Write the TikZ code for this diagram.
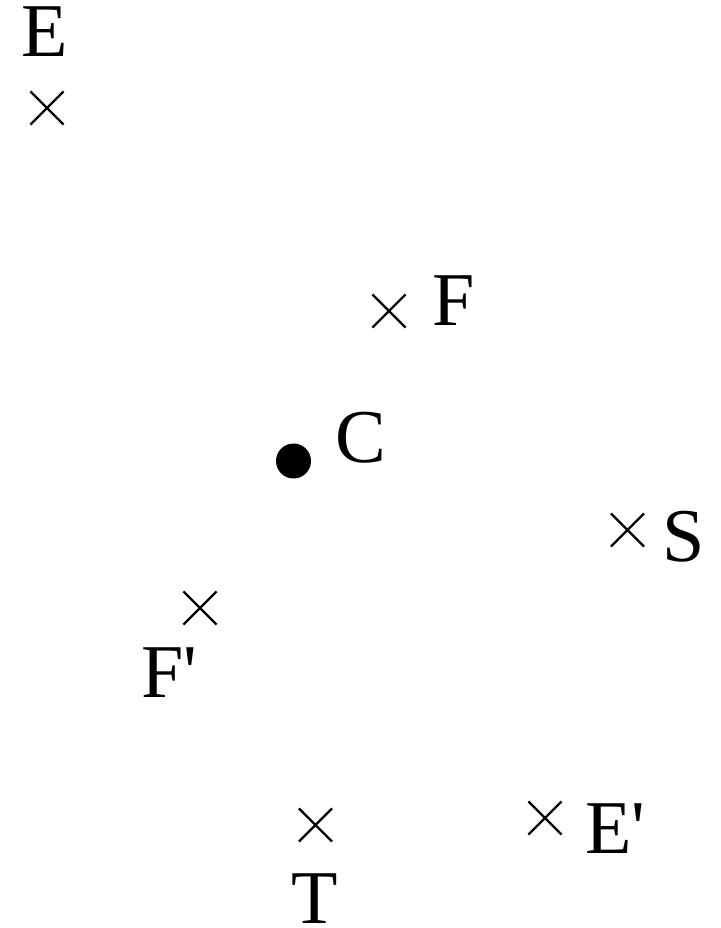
\documentclass[tikz,border=0pt]{standalone}
\usepackage{fontspec}
\newfontfamily\lbf{Liberation Serif}
\usetikzlibrary{shapes.misc}
\begin{document}
\begin{tikzpicture}[x=1pt,y=-1pt,
  lbl/.style={inner sep=0pt,outer sep=0pt,anchor=base west,font=\lbf\fontsize{76}{80}\selectfont},
  xmark/.style={cross out,draw,line width=2.2pt,inner sep=0pt,minimum size=31pt},
  dotc/.style={circle,fill,inner sep=0pt,minimum size=35pt}]
\useasboundingbox (0,0) rectangle (720,928);
\node[lbl] (Elab) at (21,57) {E};
\node[xmark] (E) at (47,108) {};
\node[xmark] (F) at (389,311) {};
\node[lbl] (Flab) at (432,325) {F};
\node[dotc] (C) at (293.5,461) {};
\node[lbl] (Clab) at (335,462) {C};
\node[xmark] (S) at (627.5,530) {};
\node[lbl] (Slab) at (662,561) {S};
\node[xmark] (Fp) at (200,608) {};
\node[lbl] (Fplab) at (141,697) {F'};
\node[xmark] (T) at (315.5,825) {};
\node[lbl] (Tlab) at (291,923) {T};
\node[xmark] (Ep) at (545,818) {};
\node[lbl] (Eplab) at (585,853) {E'};
\end{tikzpicture}
\end{document}
